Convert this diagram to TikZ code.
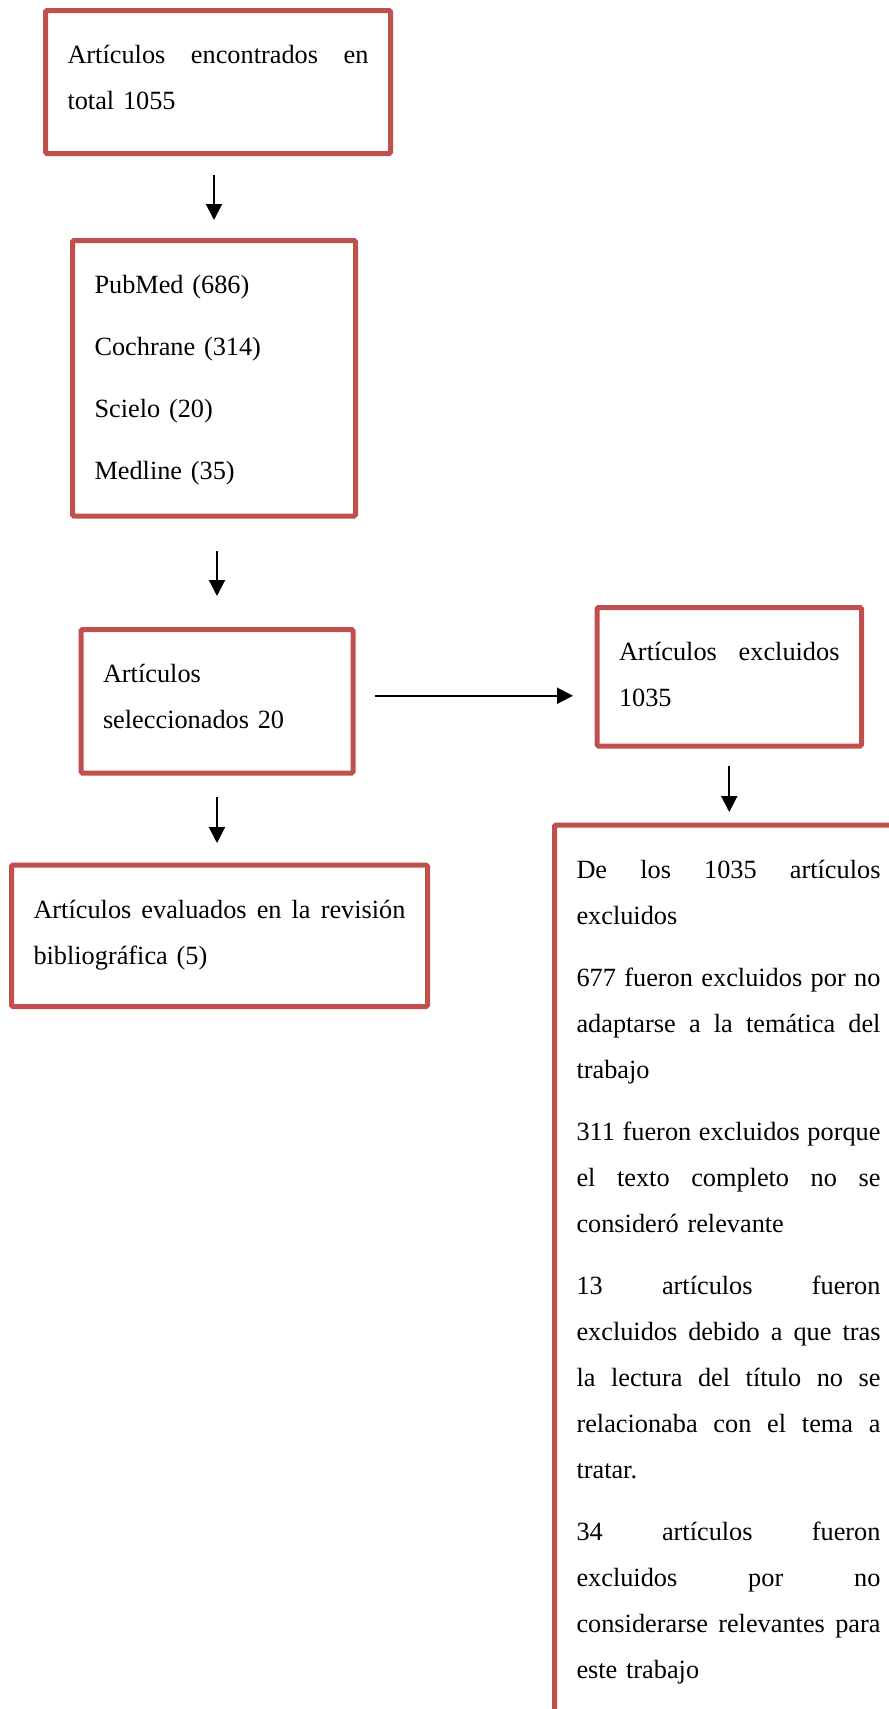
\documentclass[tikz,border=0pt]{standalone}
\usepackage{fontspec}
\setmainfont{Liberation Serif}
\usetikzlibrary{arrows.meta,positioning}

\definecolor{boxred}{RGB}{192,80,77}
\newcommand{\jline}[1]{\makebox[\linewidth][s]{\spaceskip=0pt\relax #1}}

\begin{document}
\begin{tikzpicture}[x=1pt,y=-1pt,
  box/.style={draw=boxred, line width=5pt, rounded corners=1.5pt,
    anchor=north west, outer sep=0pt, inner xsep=22pt, inner ysep=30pt,
    text height=23pt, font=\fontsize{26.3pt}{46pt}\selectfont},
  arr/.style={line width=2pt, -{Triangle[length=16pt,width=16pt]}}]

% Page
\useasboundingbox (0,0) rectangle (889,1709);
\clip (0,0) rectangle (889,1709);

% Search
\node[box, text width=301pt, text depth=60pt] (total) at (45.5,10.5)
  {\jline{Artículos encontrados en}\\ total 1055};

% Databases
\node[box, text width=239pt, text depth=192.5pt] (bases) at (72.5,240.5)
  {PubMed (686)\\[16pt] Cochrane (314)\\[16pt] Scielo (20)\\[16pt] Medline (35)};

% Selected
\node[box, text width=228pt, text depth=60.5pt] (selec) at (81,629.5)
  {Artículos\\ seleccionados 20};

% Excluded
\node[box, text width=220.5pt, text depth=55.5pt] (excl) at (597,607.5)
  {\jline{Artículos excluidos}\\ 1035};

% Evaluated
\node[box, text width=372pt, text depth=58.5pt] (evalua) at (11.5,865)
  {\jline{Artículos evaluados en la revisión}\\ bibliográfica (5)};

% Reasons
\node[box, text width=304pt, text depth=832pt] (motivos) at (554.5,825)
  {\jline{De los 1035 artículos}\\
   excluidos\\[16pt]
   \jline{677 fueron excluidos por no}\\
   \jline{adaptarse a la temática del}\\
   trabajo\\[16pt]
   \jline{311 fueron excluidos porque}\\
   \jline{el texto completo no se}\\
   consideró relevante\\[16pt]
   \jline{13 artículos fueron}\\
   \jline{excluidos debido a que tras}\\
   \jline{la lectura del título no se}\\
   \jline{relacionaba con el tema a}\\
   tratar.\\[16pt]
   \jline{34 artículos fueron}\\
   \jline{excluidos por no}\\
   \jline{considerarse relevantes para}\\
   este trabajo};

% Arrows
\draw[arr, shorten <=21.5pt, shorten >=20.5pt] (total.south -| bases.north) -- (bases.north);
\draw[arr, shorten <=35pt, shorten >=33.5pt] (bases.south -| selec.north) -- (selec.north);
\draw[arr, shorten <=24pt, shorten >=22pt] (selec.south) -- (selec.south |- evalua.north);
\draw[arr, shorten <=22pt, shorten >=24pt] ([yshift=5.5pt]selec.east) -- ([yshift=5.5pt]selec.east -| excl.west);
\draw[arr, shorten <=20pt, shorten >=13pt] (excl.south) -- (excl.south |- motivos.north);

\end{tikzpicture}
\end{document}
